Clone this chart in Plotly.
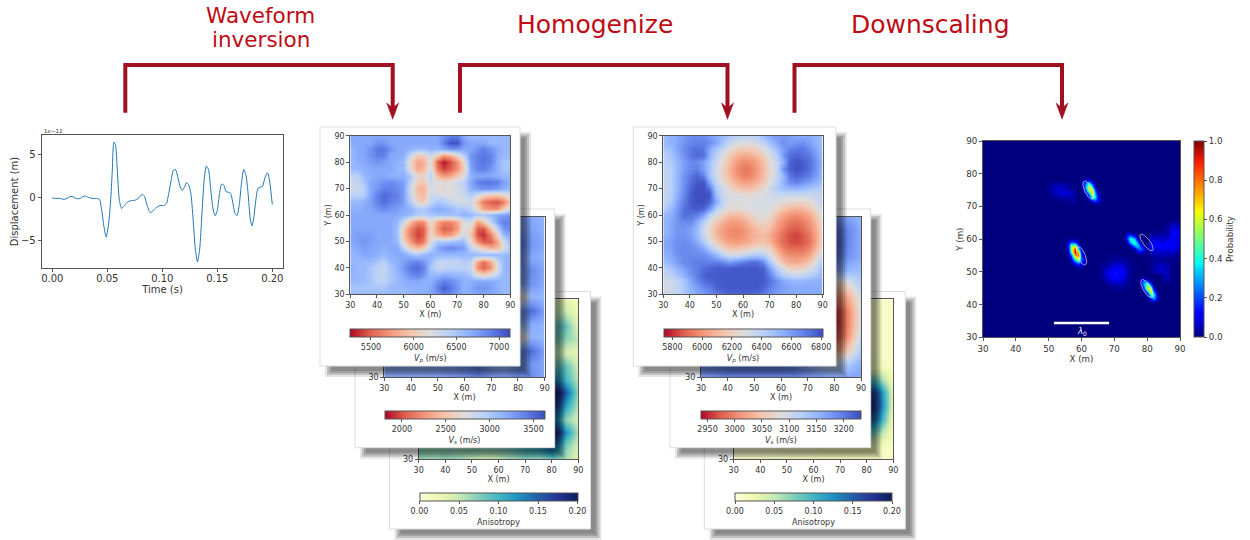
import numpy as np
import plotly.graph_objects as go

W, H = 1250, 540

# ---------- waveform ----------
wave_t = [0, .003, .006, .009, .011, .014, .017, .019, .022, .025, .029, .033, .037, .041, .043, .045, .047, .049, .051, .053, .0545, .056, .0575, .059, .061, .063, .065, .068, .071, .075, .078, .082, .084, .086, .089, .091, .094, .098, .102, .104, .106, .108, .110, .112, .114, .116, .118, .120, .122, .124, .126, .128, .130, .132, .134, .136, .138, .140, .142, .144, .146, .148, .150, .152, .154, .156, .158, .160, .162, .164, .166, .168, .170, .172, .174, .176, .178, .180, .1815, .183, .185, .187, .189, .191, .193, .195, .196, .198, .200]
wave_v = [0, -.1, -.05, -.15, -.2, 0, .15, .1, -.1, -.1, .2, .05, -.1, -.1, -.2, -1.5, -3.4, -4.6, -3.3, -.5, 3.0, 6.5, 6.2, 3.5, -.3, -1.25, -1.0, -.55, -.35, -.3, -.1, .4, .1, -.8, -1.75, -1.6, -1.2, -.9, -.9, -.6, .6, 2, 3.2, 3.3, 2.5, 1.4, .85, 1.2, 1.75, 1.5, .5, -2.5, -6, -7.5, -6, -2, 2, 3.7, 3.3, 1, -1.2, -2.1, -1.5, .5, 1.6, 1.45, .7, .65, .55, -.5, -1.8, -2.1, -.8, 1.7, 3.3, 2.7, .5, -2.5, -3.3, -2.5, -.3, 1.1, 1.25, 1.3, 2.2, 2.85, 2.85, 1.5, -.8]

# ---------- map grids ----------
x_fine = [30, 32.5, 35, 37.5, 40, 42.5, 45, 47.5, 50, 52.5, 55, 57.5, 60, 62.5, 65, 67.5, 70, 72.5, 75, 77.5, 80, 82.5, 85, 87.5, 90]
y_fine = x_fine[::-1]
x_coarse = [30, 35, 40, 45, 50, 55, 60, 65, 70, 75, 80, 85, 90]
y_coarse = x_coarse[::-1]

# FWI Vp in hundreds of m/s, rows from y=90 down to y=30
vp_fwi = [
[67,67,67,67,67,67,67,67,67,67,67,67,67,67,68,69,69,67,66,66,66,66,66,66,66],
[67,67,67,67,68,68,67,67,67,67,67,67,67,67,69,71,71,68,67,67,67,66,66,66,66],
[66,67,67,68,69.5,69.5,68,67,67,66.5,66,66,66.5,66.5,67,68,68,67,67,68,69,68,67,66,66],
[66,67,67,68,69,69,67,67,66.5,63,60,60,63,60,57,58,61,64,68,69,69.5,69,67,66,66],
[66,66.5,67,67.5,68,67.5,67,66.5,66,61,58,58.5,62,55,53,54.5,57,61,67.5,69,69.5,69,66.5,65,65],
[66,66,66.5,67,67,67,67,66,66,61.5,58,59,62.5,56,54,55,57,60,67,69,69,68,66.5,65,65],
[64,64,66,66.5,67,67,66.5,66.5,66.5,65,61,61,64,59,57.5,58,60,62,66.5,67,67,67,66.5,66,66],
[63,63.5,65,67,67.5,68,68.5,68,67.5,64,60.5,60,63,62,61.5,62,63,64,67,69,69.5,69.5,69,67.5,66.5],
[63,63,64,67,68,69,69,68.5,67.5,63,59,58.5,62.5,61.5,61.5,62,62.5,63.5,66.5,67.5,68,68,67.5,66.5,66],
[64,64,64.5,67,69,70,69.5,69,67.5,63.5,59.5,59,63,63,62.5,62,62.5,63,64.5,63,61,60,60,61,63],
[66,66,66.5,67.5,69,70,69,68.5,67.5,64.5,61,60,63.5,65,64.5,63.5,62.5,62.5,63,59,56,55,54.5,56,60],
[66.5,66.5,67,67,68,68.5,68,67.5,67,66.5,65,65,66,67,66.5,66,65,65,64,61,58,57,57,60,63],
[67,67,67,67,67,67,67,67,66.5,66,64.5,64.5,65,65.5,65.5,65.5,65.5,66.5,66,65,65,66,67,67.5,68],
[67,67,67,67,67,67,67,66,63,59,56.5,57,61.5,58,56.5,56.5,58,62,63,57.5,60,63.5,67.5,69,69],
[67,67,67,67,67,67,67,65.5,60,56.5,54.5,55,61,57,55,55.5,57.5,62,61,55,54.5,59,64,68,68.5],
[67,67.5,67.5,67.5,67,67,67,65.5,59.5,56,54,55,61,58.5,57,57.5,60,63,60,54.5,53.5,56,61,66,67],
[67,67.5,68,67.5,67,67,67,66,61,57.5,55,56,62,65,65,65.5,66,66,61.5,57,55,55,58,62.5,66],
[66.5,67,67.5,67,67,66.5,67,67,64,60.5,59,60,64,67,68,68.5,68,67.5,64,62,60,58.5,59,62,65],
[66,66.5,67,67,66.5,66,66.5,67,67,66,65,66,66.5,66,66,66,66,66,66,66,66,66,66,66,66],
[66,66,66,66,65,64,66,66.5,67.5,68.5,69,68,66,63.5,63.5,63.5,63.5,64.5,64,58,55.5,58,63,66,66.5],
[66.5,66,66,65,64,63.5,65,66.5,68,69.5,70,69,65,63.5,63.5,64,64,64,63.5,57,55,57,62,66,66.5],
[66.5,66,66,65,64,63.5,65,66,67,68.5,69,68,66,66,66.5,66.5,66,66,65,62,60.5,62,64,66,66],
[66,66,66,65,64,64,65,66,66.5,67,67,66.5,66.5,68,69,68.5,67.5,66.5,66.5,67,67,67,66.5,66,66],
[65,65,65,65,65,65,66,66,66,66.5,66.5,66.5,67,69,70.5,69.5,68,66.5,67,68,68,67.5,66.5,66,66],
[66,66,66,66,66,66,66,66,66,66,66.5,66.5,67,68,69,68.5,67.5,66.5,66.5,67,67,67,66.5,66,66],
]

# Homogenized Vp in tens of m/s, rows from y=90 down to y=30
vp_hom = [
[648,653,656,660,664,664,664,659,656,650,645,640,638,638,640,648,656,660,660,659,656,656,656,653,648],
[648,653,656,662,666,668,668,664,656,645,636,631,628,629,632,638,647,656,664,659,662,664,659,653,648],
[645,648,656,664,670,672,670,656,645,634,626,619,616,616,620,627,636,648,659,668,670,670,664,656,648],
[640,645,653,662,670,673,672,653,638,627,616,609,606,606,611,619,629,640,662,672,675,672,670,659,650],
[638,643,651,659,665,665,659,648,634,623,612,602,597,598,604,613,625,636,653,675,679,677,672,662,651],
[637,640,650,659,665,668,659,647,632,619,609,598,594,594,601,611,623,635,664,675,679,677,672,662,651],
[635,640,650,662,670,675,668,647,632,620,610,601,595,596,603,612,624,635,651,670,675,672,668,659,650],
[635,640,650,662,672,677,679,656,636,625,615,607,603,603,608,616,627,638,653,665,668,664,659,653,647],
[635,640,651,664,675,680,680,672,643,632,624,617,614,614,618,625,632,643,648,650,650,648,645,643,640],
[636,640,653,665,677,680,680,679,648,632,630,628,626,626,628,630,632,634,634,635,634,634,634,636,638],
[638,643,656,668,677,680,680,675,656,636,630,628,628,628,630,630,631,628,626,622,622,622,625,632,638],
[640,650,659,672,675,677,675,662,640,630,625,624,626,628,630,630,628,622,614,610,608,610,615,624,634],
[650,653,662,672,672,668,659,640,628,618,612,611,614,620,626,628,625,612,604,600,598,600,606,618,630],
[651,656,662,665,665,656,640,628,616,608,603,602,605,612,620,622,618,606,598,593,592,594,600,612,626],
[651,656,662,662,659,651,634,622,610,602,598,597,600,606,612,616,612,602,594,588,587,590,597,608,624],
[653,656,662,662,659,651,636,623,610,602,598,597,600,605,610,612,608,598,590,585,583,586,593,606,622],
[656,659,664,665,662,656,643,630,618,608,603,602,604,608,612,614,610,598,590,585,584,586,592,606,622],
[656,659,664,665,664,662,656,643,630,620,614,613,616,620,624,624,620,605,594,590,590,590,596,610,626],
[653,656,662,665,665,665,664,659,651,638,632,632,636,640,643,640,630,615,602,598,598,598,604,620,634],
[648,653,659,665,667,668,668,668,668,665,659,664,668,672,672,664,645,627,612,606,606,608,615,630,643],
[640,645,653,659,665,668,672,675,677,677,677,678,678,678,678,675,659,640,628,620,618,620,628,638,648],
[636,640,645,653,662,668,675,677,677,678,678,678,678,678,678,677,668,653,640,636,634,636,640,645,653],
[632,634,638,645,656,665,672,675,677,678,678,678,678,678,678,677,672,664,656,653,651,651,653,653,653],
[630,632,636,643,653,659,665,668,675,677,678,678,678,678,678,675,668,662,659,656,656,656,656,656,656],
[632,634,638,643,651,656,659,665,668,672,675,675,675,675,672,668,664,659,656,656,656,656,656,656,656],
]

vs_fwi = [
[3200,3150,3200,3250,3200,3150,3200,3250,3300,3250,3250,3200,3150],
[3200,3200,3250,3300,3250,3200,3250,3300,3300,3300,3300,3250,3150],
[3150,3200,3300,3300,3200,2800,3100,2500,3000,3300,3400,3300,3200],
[3100,3150,3200,3200,3150,3000,3200,2900,3100,3250,3300,3200,3150],
[3000,3200,3300,3300,3200,2800,3100,2900,3000,3200,3250,3350,3200],
[3100,3250,3400,3300,3200,3000,3200,3100,3100,2800,3200,3300,3200],
[3200,3200,3200,3200,3100,2900,3000,3000,3100,2700,2400,3150,3100],
[3200,3200,3200,3200,2800,2300,2900,2400,2900,2500,3250,3500,3250],
[3250,3250,3200,3200,2900,2500,3000,2700,3100,2400,3150,3200,3150],
[3200,3250,3200,3250,3200,3100,3200,3200,3150,3100,2400,3150,3100],
[3200,3200,3100,3200,3300,3400,3100,3100,3200,2500,3300,3500,3250],
[3150,3200,3150,3200,3200,3250,3300,3400,3200,3100,3300,3300,3200],
[3200,3200,3200,3200,3200,3250,3300,3400,3300,3300,3350,3350,3200],
]

an_fwi = [
[.05,.05,.06,.06,.05,.05,.05,.06,.05,.05,.04,.03,.02],
[.05,.06,.07,.07,.06,.05,.06,.06,.05,.05,.05,.05,.02],
[.06,.06,.08,.08,.07,.07,.06,.08,.07,.07,.08,.09,.03],
[.06,.07,.08,.07,.08,.06,.06,.07,.07,.07,.08,.07,.05],
[.07,.06,.07,.07,.09,.07,.08,.08,.07,.06,.05,.04,.03],
[.06,.06,.07,.08,.08,.07,.07,.08,.09,.07,.08,.09,.04],
[.07,.07,.08,.09,.09,.08,.08,.09,.10,.12,.14,.10,.05],
[.08,.08,.09,.10,.09,.09,.09,.10,.12,.18,.22,.16,.06],
[.07,.08,.09,.10,.09,.08,.09,.10,.12,.17,.20,.12,.05],
[.07,.07,.08,.08,.08,.08,.09,.10,.11,.13,.16,.07,.04],
[.07,.07,.08,.08,.09,.09,.09,.11,.13,.18,.22,.13,.05],
[.07,.07,.07,.07,.08,.08,.08,.09,.11,.13,.16,.08,.04],
[.07,.06,.07,.06,.05,.04,.05,.06,.07,.06,.08,.06,.03],
]

vs_hom = [
[3170,3170,3170,3170,3170,3170,3170,3170,3170,3160,3170,3170,3150],
[3170,3170,3180,3190,3190,3180,3170,3170,3180,3200,3210,3190,3160],
[3170,3180,3190,3200,3200,3190,3180,3180,3190,3220,3220,3190,3160],
[3160,3170,3190,3200,3200,3180,3150,3150,3180,3210,3210,3180,3160],
[3150,3170,3190,3210,3200,3170,3130,3130,3170,3180,3170,3150,3140],
[3150,3170,3190,3200,3190,3150,3110,3110,3120,3050,3050,3080,3130],
[3160,3170,3190,3190,3170,3120,3080,3070,3040,2990,2990,3030,3100],
[3170,3180,3190,3180,3150,3090,3050,3040,3000,2960,2950,3000,3090],
[3170,3180,3190,3180,3150,3100,3070,3060,3000,2945,2945,3000,3090],
[3180,3190,3190,3190,3170,3140,3120,3100,3030,2960,2960,3010,3110],
[3180,3190,3200,3200,3190,3180,3170,3150,3090,3020,3010,3060,3130],
[3180,3190,3200,3200,3200,3200,3200,3190,3160,3120,3110,3130,3160],
[3170,3180,3190,3190,3190,3190,3190,3190,3180,3180,3170,3170,3170],
]

an_hom = [
[.01,.01,.01,.01,.01,.01,.01,.01,.01,.01,.01,.01,.01],
[.01,.01,.01,.01,.02,.02,.02,.01,.01,.01,.01,.01,.01],
[.01,.01,.02,.02,.03,.03,.03,.02,.01,.01,.01,.01,.01],
[.01,.01,.02,.03,.03,.03,.03,.02,.01,.01,.01,.01,.01],
[.01,.01,.02,.03,.04,.04,.03,.02,.02,.01,.01,.01,.01],
[.01,.01,.02,.03,.04,.04,.04,.03,.03,.03,.02,.02,.01],
[.01,.01,.02,.03,.04,.05,.05,.05,.07,.10,.10,.07,.01],
[.01,.01,.02,.03,.04,.05,.06,.08,.12,.18,.19,.14,.02],
[.01,.01,.02,.03,.04,.05,.06,.09,.14,.21,.21,.15,.02],
[.01,.01,.02,.02,.03,.04,.05,.08,.12,.17,.17,.12,.01],
[.01,.01,.01,.02,.02,.03,.04,.05,.07,.10,.10,.06,.01],
[.01,.01,.01,.01,.02,.02,.02,.03,.03,.03,.03,.02,.01],
[.01,.01,.01,.01,.01,.01,.01,.01,.01,.01,.01,.01,.01],
]

# Probability map: strong and faint patches, rows from low y to high y
prob_bg_x = [30, 90]
prob_bg_y = [30, 90]
prob_bg_z = [[0, 0], [0, 0]]

f1_x = [48, 50, 52, 54, 56, 58, 60, 62]
f1_y = [70, 72, 74, 76, 78]
f1_z = [[0,0,0,0,0,0,0,0],
        [0,0,0,.01,.02,.03,.01,0],
        [0,.01,.05,.08,.07,.03,0,0],
        [0,.02,.06,.06,.02,0,0,0],
        [0,0,0,0,0,0,0,0]]

f2_x = [64, 66, 68, 70, 72, 74, 76]
f2_y = [44, 46, 48, 50, 52, 54, 56]
f2_z = [[0,0,0,0,0,0,0],
        [0,0,.01,.03,.03,.01,0],
        [0,.01,.07,.12,.10,.03,0],
        [0,.02,.09,.14,.12,.04,0],
        [0,.01,.03,.08,.08,.03,0],
        [0,0,.01,.02,.02,.01,0],
        [0,0,0,0,0,0,0]]

f3_x = [78, 80, 82, 84, 86, 88, 90]
f3_y = [46, 48, 50, 52, 54, 56, 58, 60, 62, 64, 66]
f3_z = [[0,0,0,0,0,0,0],
        [0,0,0,.03,.03,0,0],
        [0,0,.03,.07,.05,0,0],
        [0,0,.03,.06,.04,0,0],
        [0,0,.01,.02,.01,.01,0],
        [0,.03,.06,.06,.06,.05,.01],
        [.03,.10,.12,.11,.13,.13,.03],
        [.01,.06,.08,.07,.07,.10,.06],
        [0,0,.01,.01,.03,.12,.06],
        [0,0,0,0,.02,.08,.03],
        [0,0,0,0,0,0,0]]

b1_x = [59, 60, 61, 62, 63, 64, 65, 66, 67]
b1_y = [70, 71, 72, 73, 74, 75, 76, 77, 78, 79, 80]
b1_z = [[0,0,0,0,0,0,0,0,0],
        [0,0,0,0,.01,.03,.03,.01,0],
        [0,0,0,.01,.14,.24,.13,.02,0],
        [0,0,.01,.05,.40,.42,.12,.01,0],
        [0,0,.03,.28,.68,.34,.05,0,0],
        [0,0,.10,.55,.74,.24,.02,0,0],
        [0,.02,.22,.62,.48,.08,0,0,0],
        [0,.04,.20,.40,.18,.02,0,0,0],
        [0,.01,.06,.09,.03,0,0,0,0],
        [0,0,.01,.01,0,0,0,0,0],
        [0,0,0,0,0,0,0,0,0]]

b2_x = [54, 55, 56, 57, 58, 59, 60, 61, 62]
b2_y = [50, 51, 52, 53, 54, 55, 56, 57, 58, 59, 60, 61]
b2_z = [[0,0,0,0,0,0,0,0,0],
        [0,0,0,0,0,.01,.01,0,0],
        [0,0,0,0,.04,.10,.06,.01,0],
        [0,0,0,.03,.17,.30,.15,.02,0],
        [0,0,0,.08,.42,.60,.22,.02,0],
        [0,0,.02,.22,.78,.85,.20,.01,0],
        [0,0,.05,.45,.97,.70,.10,0,0],
        [0,.01,.08,.58,.90,.40,.04,0,0],
        [0,.01,.10,.50,.55,.15,.01,0,0],
        [0,.01,.06,.22,.18,.03,0,0,0],
        [0,0,.02,.04,.03,.01,0,0,0],
        [0,0,0,0,0,0,0,0,0]]

b3_x = [72, 73, 74, 75, 76, 77, 78, 79, 80]
b3_y = [55, 56, 57, 58, 59, 60, 61, 62, 63]
b3_z = [[0,0,0,0,0,0,0,0,0],
        [0,0,0,0,0,.02,.07,.03,0],
        [0,0,0,0,.04,.20,.25,.09,0],
        [0,0,0,.05,.26,.36,.18,.03,0],
        [0,0,.06,.30,.45,.28,.05,0,0],
        [0,0,.20,.42,.34,.08,0,0,0],
        [0,.01,.18,.24,.10,0,0,0,0],
        [0,0,.04,.04,0,0,0,0,0],
        [0,0,0,0,0,0,0,0,0]]

b4_x = [76, 77, 78, 79, 80, 81, 82, 83, 84]
b4_y = [40, 41, 42, 43, 44, 45, 46, 47, 48, 49]
b4_z = [[0,0,0,0,0,0,0,0,0],
        [0,0,0,0,0,.02,.04,.01,0],
        [0,0,0,0,0,.12,.30,.07,0],
        [0,0,0,0,.05,.45,.40,.05,0],
        [0,0,0,.02,.30,.68,.24,0,0],
        [0,0,0,.12,.62,.60,.07,0,0],
        [0,0,.02,.30,.55,.24,0,0,0],
        [0,0,.07,.28,.22,.03,0,0,0],
        [0,0,.04,.06,.02,0,0,0,0],
        [0,0,0,0,0,0,0,0,0]]

ell_cx = [62.1, 60.0, 79.8, 79.9]
ell_cy = [75.0, 54.9, 59.0, 44.9]
ell_major = [3.0, 3.0, 3.1, 3.1]
ell_minor = [1.15, 1.15, 1.05, 1.15]
ell_tilt = [25, 22, 37, 30]

bar_x = [51.6, 68.4]
bar_y = [34.4, 34.4]

# ---------- colours ----------
coolwarm_r = [[0, 'rgb(180,4,38)'], [.125, 'rgb(222,96,77)'], [.25, 'rgb(244,152,122)'], [.375, 'rgb(245,196,173)'],
              [.5, 'rgb(221,221,221)'], [.625, 'rgb(184,208,249)'], [.75, 'rgb(141,176,254)'], [.875, 'rgb(98,130,234)'], [1, 'rgb(59,76,192)']]
ylgnbu = [[0, 'rgb(255,255,217)'], [.125, 'rgb(237,248,177)'], [.25, 'rgb(199,233,180)'], [.375, 'rgb(127,205,187)'],
          [.5, 'rgb(65,182,196)'], [.625, 'rgb(29,145,192)'], [.75, 'rgb(34,94,168)'], [.875, 'rgb(37,52,148)'], [1, 'rgb(8,29,88)']]
jet = [[0, 'rgb(0,0,127)'], [.11, 'rgb(0,0,255)'], [.125, 'rgb(0,0,255)'], [.35, 'rgb(0,219,255)'], [.375, 'rgb(0,255,241)'],
       [.64, 'rgb(245,255,0)'], [.66, 'rgb(255,230,0)'], [.89, 'rgb(255,30,0)'], [1, 'rgb(127,0,0)']]

INK = '#333333'
SPINE = '#555555'
ARROW = '#A01020'
TITLE = '#C00A14'
FONT = 'DejaVu Sans'

fig = go.Figure()
layout = {}
shapes = []
annotations = []


def xdom(a, b):
    return [a / W, b / W]


def ydom(top, bottom):
    return [1 - bottom / H, 1 - top / H]


def axis(dom, rng, vals, size, title=None, standoff=4, anchor=None, fmt=None):
    d = dict(domain=dom, range=rng, tickmode='array', tickvals=vals, showgrid=False, zeroline=False,
             showline=True, mirror=True, linecolor=SPINE, linewidth=1, ticks='outside', ticklen=3, tickwidth=1,
             tickcolor=SPINE, tickfont=dict(family=FONT, size=size, color=INK), anchor=anchor, fixedrange=True)
    if fmt:
        d['tickformat'] = fmt
    if title:
        d['title'] = dict(text=title, standoff=standoff, font=dict(family=FONT, size=size, color=INK))
    return d


def panel_layer(n, x0, y0, x1, y1):
    """Invisible subplot n holds the shadow and the white card of one panel, in page pixels."""
    ax0, ax1, ay0, ay1 = x0 - 2, x1 + 14, y0 - 2, min(y1 + 14, H)
    layout[f'xaxis{n}'] = dict(domain=xdom(ax0, ax1), range=[ax0, ax1], visible=False, anchor=f'y{n}', fixedrange=True)
    layout[f'yaxis{n}'] = dict(domain=ydom(ay0, ay1), range=[ay1, ay0], visible=False, anchor=f'x{n}', fixedrange=True)
    for d, a in ((3, .10), (1, .16), (-1, .16), (-3, .14)):
        shapes.append(dict(type='rect', xref=f'x{n}', yref=f'y{n}', layer='below', x0=x0 + 8 - d, y0=y0 + 8 - d,
                           x1=x1 + 8 + d, y1=y1 + 8 + d, fillcolor=f'rgba(0,0,0,{a})', line=dict(width=0)))
    shapes.append(dict(type='rect', xref=f'x{n}', yref=f'y{n}', layer='below', x0=x0, y0=y0, x1=x1, y1=y1,
                       fillcolor='white', line=dict(color='#dddddd', width=1)))


def map_panel(n, box, z, xs, ys, zmin, zmax, cs, ctitle, ctick, cfmt, cbox, ytitle=False):
    left, top, right, bottom = box
    ticks = [30, 40, 50, 60, 70, 80, 90]
    layout[f'xaxis{n}'] = axis(xdom(left, right), [30, 90], ticks, 8, 'X (m)', 2, f'y{n}')
    layout[f'yaxis{n}'] = axis(ydom(top, bottom), [30, 90], ticks, 8, 'Y (m)' if ytitle else None, 1, f'x{n}')
    cl, ct, cr, cb = cbox
    fig.add_trace(go.Heatmap(
        z=z, x=xs, y=ys, xaxis=f'x{n}', yaxis=f'y{n}', zmin=zmin, zmax=zmax, colorscale=cs, zsmooth='best',
        hoverinfo='skip',
        colorbar=dict(orientation='h', xref='paper', yref='paper', x=(cl + cr) / 2 / W, xanchor='center',
                      y=1 - ct / H, yanchor='top', len=cr - cl, lenmode='pixels', thickness=cb - ct,
                      thicknessmode='pixels', xpad=0, ypad=0, outlinecolor=SPINE, outlinewidth=1,
                      tickmode='array', tickvals=ctick, tickformat=cfmt, ticks='outside', ticklen=3, tickwidth=1,
                      tickcolor=SPINE, tickfont=dict(family=FONT, size=8, color=INK),
                      title=dict(text=ctitle, side='bottom', font=dict(family=FONT, size=8, color=INK)))))


# waveform subplot
layout['xaxis'] = axis(xdom(41.7, 283.3), [-.0096, .21], [0, .05, .1, .15, .2], 10, 'Time (s)', 2, 'y', '.2f')
layout['xaxis']['ticklabelstandoff'] = -2
layout['yaxis'] = axis(ydom(135.3, 267.7), [-8.18, 7.3], [-5, 0, 5], 10, 'Displacement (m)', 0, 'x')
fig.add_trace(go.Scatter(x=wave_t, y=wave_v, mode='lines', line=dict(color='#1f77b4', width=1, shape='spline', smoothing=.6),
                         hoverinfo='skip', showlegend=False))
annotations.append(dict(text='1e\u221212', xref='paper', yref='paper', x=42 / W, y=1 - 131.5 / H, xanchor='left',
                        yanchor='middle', showarrow=False, font=dict(family=FONT, size=5.5, color=INK)))

vp_fwi_ms = (np.array(vp_fwi) * 100).tolist()
vp_hom_ms = (np.array(vp_hom) * 10).tolist()

# left stack, back to front
panel_layer(2, 389.5, 291.5, 590.5, 529)
map_panel(3, (418.7, 299.3, 578.3, 459), an_fwi, x_coarse, y_coarse, 0, .2, ylgnbu, 'Anisotropy',
          [0, .05, .1, .15, .2], '.2f', (419.7, 493.3, 577.3, 501.3))
panel_layer(4, 355, 209, 554.7, 447.7)
map_panel(5, (384.3, 216.7, 544.7, 377.3), vs_fwi, x_coarse, y_coarse, 1802, 3625, coolwarm_r, '<i>V<sub>s</sub></i> (m/s)',
          [2000, 2500, 3000, 3500], 'd', (384.3, 411.3, 544.7, 419.3))
panel_layer(6, 320, 127, 520, 366)
map_panel(7, (350.3, 135.7, 510.3, 294.3), vp_fwi_ms, x_fine, y_fine, 5258, 7132, coolwarm_r, '<i>V<sub>p</sub></i> (m/s)',
          [5500, 6000, 6500, 7000], 'd', (350.3, 328.7, 510.3, 336.7), ytitle=True)

# right stack, back to front
panel_layer(8, 704.3, 291.5, 905.3, 529)
map_panel(9, (733.7, 299.3, 893.3, 459), an_hom, x_coarse, y_coarse, 0, .2, ylgnbu, 'Anisotropy',
          [0, .05, .1, .15, .2], '.2f', (735, 493.3, 892, 501.3))
panel_layer(10, 670, 209, 870.7, 447.7)
map_panel(11, (701, 216.7, 861, 377.3), vs_hom, x_coarse, y_coarse, 2938, 3232, coolwarm_r, '<i>V<sub>s</sub></i> (m/s)',
          [2950, 3000, 3050, 3100, 3150, 3200], 'd', (701, 411.3, 861, 419.3))
panel_layer(12, 633.3, 127, 836, 366)
map_panel(13, (663.3, 135.7, 822.7, 294.3), vp_hom_ms, x_fine, y_fine, 5740, 6809, coolwarm_r, '<i>V<sub>p</sub></i> (m/s)',
          [5800, 6000, 6200, 6400, 6600, 6800], 'd', (663.3, 328.7, 822.7, 336.7), ytitle=True)

# probability map
ticks = [30, 40, 50, 60, 70, 80, 90]
layout['xaxis14'] = axis(xdom(983, 1180), [30, 90], ticks, 8.7, 'X (m)', 2, 'y14')
layout['yaxis14'] = axis(ydom(141, 337.3), [30, 90], ticks, 8.7, 'Y (m)', 1, 'x14')
fig.add_trace(go.Heatmap(
    z=prob_bg_z, x=prob_bg_x, y=prob_bg_y, xaxis='x14', yaxis='y14', zmin=0, zmax=1, colorscale=jet, hoverinfo='skip',
    zsmooth='best',
    colorbar=dict(orientation='v', xref='paper', yref='paper', x=1194.3 / W, xanchor='left', y=1 - 141 / H, yanchor='top',
                  len=196.3, lenmode='pixels', thickness=9.7, thicknessmode='pixels', xpad=0, ypad=0,
                  outlinecolor=SPINE, outlinewidth=1, tickmode='array', tickvals=[0, .2, .4, .6, .8, 1], tickformat='.1f',
                  ticks='outside', ticklen=3, tickwidth=1, tickcolor=SPINE, tickfont=dict(family=FONT, size=8.7, color=INK),
                  title=dict(text='Probability', side='right', font=dict(family=FONT, size=8.7, color=INK)))))
for zx, zy, zz in ((f1_x, f1_y, f1_z), (f2_x, f2_y, f2_z), (f3_x, f3_y, f3_z), (b1_x, b1_y, b1_z), (b2_x, b2_y, b2_z),
                   (b3_x, b3_y, b3_z), (b4_x, b4_y, b4_z)):
    fig.add_trace(go.Heatmap(z=zz, x=zx, y=zy, xaxis='x14', yaxis='y14', zmin=0, zmax=1, colorscale=jet,
                             zsmooth='best', showscale=False, hoverinfo='skip'))
theta = np.linspace(0, 2 * np.pi, 60)
for cx, cy, ma, mi, tilt in zip(ell_cx, ell_cy, ell_major, ell_minor, ell_tilt):
    t = np.radians(tilt)
    u, v = mi * np.cos(theta), ma * np.sin(theta)
    fig.add_trace(go.Scatter(x=cx + u * np.cos(t) - v * np.sin(t), y=cy + u * np.sin(t) + v * np.cos(t), mode='lines',
                             line=dict(color='rgba(255,255,255,0.85)', width=.7), xaxis='x14', yaxis='y14',
                             showlegend=False, hoverinfo='skip'))
fig.add_trace(go.Scatter(x=bar_x, y=bar_y, mode='lines', line=dict(color='white', width=2.5), xaxis='x14', yaxis='y14',
                         showlegend=False, hoverinfo='skip'))
annotations.append(dict(text='<i>\u03bb</i><sub>0</sub>', xref='x14', yref='y14', x=60, y=31.9, showarrow=False,
                        font=dict(family=FONT, size=8.5, color='white')))

# arrows and step titles
arrow_left = [125.3, 460, 794.5]
arrow_right = [392.7, 727.5, 1062]


def px(x, y):
    return f'{x / W:.5f} {1 - y / H:.5f}'


for a, b in zip(arrow_left, arrow_right):
    shapes.append(dict(type='path', xref='paper', yref='paper', layer='above',
                       path=f'M {px(a, 112.7)} L {px(a, 65)} L {px(b, 65)} L {px(b, 108)}',
                       line=dict(color=ARROW, width=4)))
    shapes.append(dict(type='path', xref='paper', yref='paper', layer='above',
                       path=f'M {px(b - 6, 103)} L {px(b, 108)} L {px(b + 6, 103)} L {px(b, 119.3)} Z',
                       fillcolor=ARROW, line=dict(color=ARROW, width=.5)))

step_titles = ['Waveform', 'inversion', 'Homogenize', 'Downscaling']
step_x = [260.5, 260.5, 595, 930]
step_y = [15, 39.5, 25, 25]
step_size = [21.5, 21.5, 25, 25]
for s, x, y, fs in zip(step_titles, step_x, step_y, step_size):
    annotations.append(dict(text=s, xref='paper', yref='paper', x=x / W, y=1 - y / H, xanchor='center', yanchor='middle',
                            showarrow=False, font=dict(family=FONT, size=fs, color=TITLE)))

fig.update_layout(width=W, height=H, margin=dict(l=0, r=0, t=0, b=0, autoexpand=False), paper_bgcolor='white',
                  plot_bgcolor='rgba(0,0,0,0)', showlegend=False, shapes=shapes, annotations=annotations, **layout)
fig.write_html("out.html", config={'displayModeBar': False},
               post_script="document.body.style.margin='0';document.body.style.overflow='hidden';")
